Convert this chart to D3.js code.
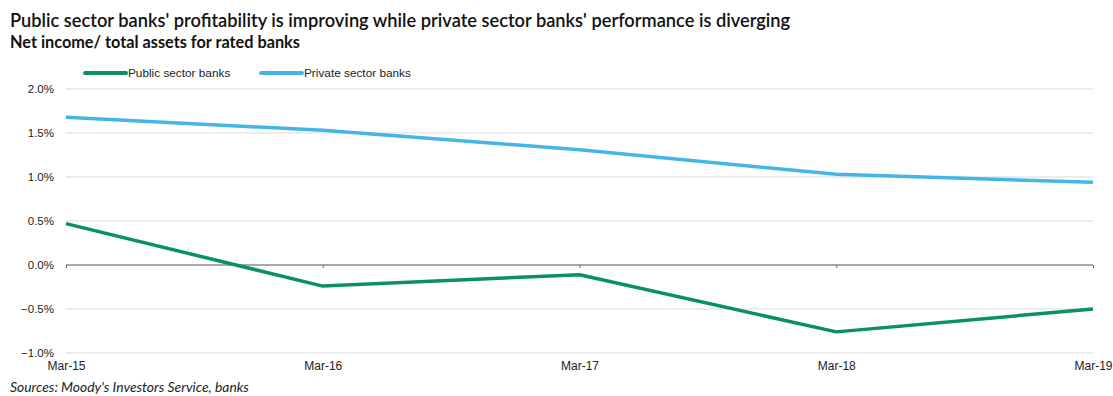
<!DOCTYPE html>
<html>
<head>
<meta charset="utf-8">
<script src="https://cdn.jsdelivr.net/npm/d3@7"></script>
<style>
  html, body { margin: 0; padding: 0; background: #fff; }
  svg { display: block; }
</style>
</head>
<body>
<svg id="chart" width="1113" height="396"></svg>
<script>
// Net income / total assets for rated banks, year ending March
const categories = ["Mar-15", "Mar-16", "Mar-17", "Mar-18", "Mar-19"];
const publicSector = [0.47, -0.24, -0.11, -0.76, -0.50];
const privateSector = [1.68, 1.53, 1.31, 1.03, 0.94];
const yTicks = [2.0, 1.5, 1.0, 0.5, 0.0, -0.5, -1.0];

const series = [
  { name: "Public sector banks", values: publicSector, color: "#0a8f6a" },
  { name: "Private sector banks", values: privateSector, color: "#45b5e6" }
];

const svg = d3.select("#chart");
const left = 66, right = 1093;

const x = d3.scalePoint().domain(categories).range([left, right]);
const y = d3.scaleLinear().domain([-1.0, 2.0]).range([353, 89]);

// Shrink or grow a text node's font so it spans the given width
function fitWidth(sel, width) {
  const node = sel.node();
  const size = parseFloat(sel.style("font-size"));
  const w = node.getComputedTextLength();
  sel.style("font-size", (size * width / w).toFixed(2) + "px");
}

const titleFont = "Lato, 'Open Sans', sans-serif";
const axisFont = "'Liberation Sans', Arial, sans-serif";

// Titles
const title = svg.append("text").attr("x", 10).attr("y", 27)
  .style("font-family", titleFont).style("font-weight", 600)
  .style("font-size", "16px").attr("fill", "#111")
  .text("Public sector banks' profitability is improving while private sector banks' performance is diverging");
fitWidth(title, 780);
const subtitle = svg.append("text").attr("x", 10).attr("y", 48)
  .style("font-family", titleFont).style("font-weight", 700)
  .style("font-size", "15px").attr("fill", "#111")
  .text("Net income/ total assets for rated banks");
fitWidth(subtitle, 290);

// Gridlines
svg.append("g").selectAll("line").data(yTicks.filter(d => d !== 0)).join("line")
  .attr("x1", left).attr("x2", right)
  .attr("y1", d => y(d)).attr("y2", d => y(d))
  .attr("stroke", "#d9d9d9").attr("stroke-width", 1);

// Y axis labels
const yAxis = d3.axisLeft(y).tickValues(yTicks).tickSize(0).tickPadding(12)
  .tickFormat(d => d3.format(".1f")(d) + "%");
const gy = svg.append("g").attr("transform", `translate(${left},0)`).call(yAxis);
gy.select(".domain").remove();
gy.selectAll("text")
  .style("font-family", axisFont).style("font-size", "11.5px").attr("fill", "#222");

// Zero baseline with category ticks
const gx = svg.append("g").attr("transform", `translate(0,${y(0)})`)
  .call(d3.axisBottom(x).tickSize(3).tickFormat(""));
gx.select(".domain").attr("stroke", "#8c8c8c").attr("stroke-width", 1.5)
  .attr("d", `M${left},0H${right}`);
gx.selectAll(".tick line").attr("stroke", "#666");

// Category labels under the chart
const gl = svg.append("g").attr("transform", `translate(0,${y(-1.0)})`)
  .call(d3.axisBottom(x).tickSize(0).tickPadding(8));
gl.select(".domain").remove();
gl.selectAll("text")
  .style("font-family", axisFont).style("font-size", "12px").attr("fill", "#222");

// Series lines
const line = d3.line().x((d, i) => x(categories[i])).y(d => y(d));
svg.append("g").selectAll("path").data(series).join("path")
  .attr("d", d => line(d.values))
  .attr("fill", "none").attr("stroke", d => d.color)
  .attr("stroke-width", 3.5).attr("stroke-linejoin", "round");

// Legend
const legendX = [85, 261];
const lg = svg.append("g").selectAll("g").data(series).join("g")
  .attr("transform", (d, i) => `translate(${legendX[i]},73)`);
lg.append("line").attr("x1", 0).attr("x2", 41).attr("y1", 0).attr("y2", 0)
  .attr("stroke", d => d.color).attr("stroke-width", 4).attr("stroke-linecap", "round");
lg.append("text").attr("x", 43).attr("y", 4)
  .style("font-family", axisFont).style("font-size", "11.8px").attr("fill", "#222")
  .text(d => d.name);

// Source note
const source = svg.append("text").attr("x", 10).attr("y", 392)
  .style("font-family", titleFont).style("font-style", "italic")
  .style("font-size", "12.5px").attr("fill", "#222")
  .text("Sources: Moody's Investors Service, banks");
fitWidth(source, 239);
</script>
</body>
</html>
